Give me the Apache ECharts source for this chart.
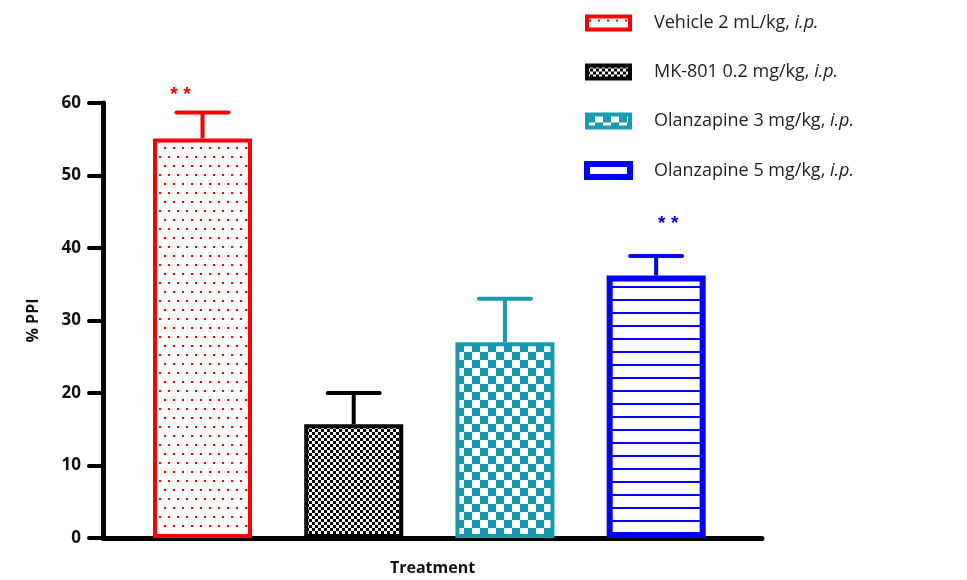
<!DOCTYPE html>
<html>
<head>
<meta charset="utf-8">
<script src="https://cdn.jsdelivr.net/npm/echarts@6/dist/echarts.min.js"></script>
<style>html,body{margin:0;padding:0;background:#fff}#c{width:967px;height:580px}</style>
</head>
<body>
<div id="c"></div>
<script>
// ---- data ----
const groups = ['Vehicle 2 mL/kg, i.p.', 'MK-801 0.2 mg/kg, i.p.', 'Olanzapine 3 mg/kg, i.p.', 'Olanzapine 5 mg/kg, i.p.'];
const meanPPI = [55.1, 15.7, 27.0, 36.2];
const errTop  = [58.7, 20.0, 33.0, 38.9];
const sigMarks = ['**', '', '', '**'];
const yTicks = [0, 10, 20, 30, 40, 50, 60];

// ---- styles ----
const colors = ['#ff0000', '#000000', '#179bb0', '#0000ff'];
const borderW = [4, 4, 4, 6];
const starDx = [-22, 0, 0, 12];
const starDy = [-22, 0, 0, -36];

function pattern(w, h, draw) {
  const c = document.createElement('canvas');
  c.width = w; c.height = h;
  const g = c.getContext('2d');
  g.fillStyle = '#ffffff'; g.fillRect(0, 0, w, h);
  draw(g);
  return { image: c, repeat: 'repeat' };
}
const fills = [
  pattern(9, 18, g => { g.fillStyle = '#ff0000'; g.fillRect(2, 3, 2, 2); g.fillRect(6, 12, 2, 2); g.fillRect(-3, 12, 2, 2); }),
  pattern(6, 6, g => { g.fillStyle = '#000'; g.fillRect(0, 0, 3, 3); g.fillRect(3, 3, 3, 3); }),
  pattern(16, 16, g => { g.fillStyle = '#179bb0'; g.fillRect(0, 0, 8, 8); g.fillRect(8, 8, 8, 8); }),
  pattern(4, 13, g => { g.fillStyle = '#0000ff'; g.fillRect(0, 0, 4, 2); })
];

const chart = echarts.init(document.getElementById('c'), null, { renderer: 'canvas' });

const barSeries = {
  name: 'bars',
  type: 'bar',
  barWidth: 99,
  data: groups.map((g, i) => ({
    value: [i, meanPPI[i]],
    itemStyle: { color: fills[i], borderColor: colors[i], borderWidth: borderW[i] }
  })),
  emphasis: { disabled: true },
  z: 2
};

const errSeries = groups.map((name, gi) => ({
  name: name,
  type: 'custom',
  z: 5,
  silent: true,
  itemStyle: { color: fills[gi], borderColor: colors[gi], borderWidth: borderW[gi] },
  data: [[gi, meanPPI[gi], errTop[gi]]],
  renderItem: function (params, api) {
    const i = api.value(0);
    const p0 = api.coord([i, api.value(1)]);
    const p1 = api.coord([i, api.value(2)]);
    const col = colors[i];
    const lw = 4;
    const children = [
      { type: 'line', shape: { x1: p0[0], y1: p0[1], x2: p1[0], y2: p1[1] }, style: { stroke: col, lineWidth: lw } },
      { type: 'line', shape: { x1: p1[0] - 26, y1: p1[1], x2: p1[0] + 26, y2: p1[1] }, style: { stroke: col, lineWidth: lw, lineCap: 'round' } }
    ];
    if (sigMarks[i]) {
      const stars = sigMarks[i].split('');
      const cx = p1[0] + starDx[i];
      stars.forEach((s, k) => {
        children.push({
          type: 'text',
          style: {
            text: s, x: cx + (k - (stars.length - 1) / 2) * 13, y: p1[1] + starDy[i] + 4,
            fill: col, font: 'bold 19px "Liberation Sans", sans-serif', align: 'center', verticalAlign: 'middle'
          }
        });
      });
    }
    return { type: 'group', children: children };
  }
}));

function legendFmt(name) {
  const base = name.replace(/i\.p\.$/, '');
  return '{n|' + base + '}{i|i.p.}';
}

chart.setOption({
  animation: false,
  backgroundColor: '#ffffff',
  grid: { left: 103, right: 205, top: 103, bottom: 42, containLabel: false, outerBoundsMode: 'none' },
  legend: {
    orient: 'vertical',
    left: 579,
    top: 9,
    itemWidth: 43,
    itemHeight: 13,
    itemGap: 31,
    selectedMode: false,
    data: groups.map((g, i) => ({
      name: g,
      icon: 'rect',
      itemStyle: { color: fills[i], borderColor: colors[i], borderWidth: borderW[i] }
    })),
    formatter: legendFmt,
    textStyle: {
      rich: {
        n: { fontFamily: '"Open Sans", sans-serif', fontSize: 18, color: '#222', padding: [0, 0, 0, 19] },
        i: { fontFamily: '"Open Sans", sans-serif', fontSize: 18, color: '#222', fontStyle: 'italic' }
      }
    }
  },
  xAxis: {
    type: 'value',
    min: -0.658,
    max: 3.70,
    name: 'Treatment',
    nameLocation: 'middle',
    nameGap: 22,
    nameTextStyle: { fontFamily: '"Open Sans", sans-serif', fontWeight: 'bold', fontSize: 16, color: '#111' },
    axisLine: { show: true, onZero: false, lineStyle: { color: '#000', width: 5, cap: 'round' } },
    axisTick: { show: false },
    axisLabel: { show: false },
    splitLine: { show: false }
  },
  yAxis: {
    type: 'value',
    min: yTicks[0],
    max: yTicks[yTicks.length - 1],
    interval: yTicks[1] - yTicks[0],
    name: '% PPI',
    nameLocation: 'middle',
    nameRotate: 90,
    nameGap: 62,
    nameTextStyle: { fontFamily: '"Open Sans", sans-serif', fontWeight: 'bold', fontSize: 16, color: '#111' },
    axisLine: { show: true, onZero: false, lineStyle: { color: '#000', width: 5, cap: 'round' } },
    axisTick: { show: true, length: 14, lineStyle: { color: '#000', width: 4, cap: 'round' } },
    axisLabel: { margin: 22, fontFamily: '"Open Sans", sans-serif', fontWeight: 'bold', fontSize: 17, color: '#111' },
    splitLine: { show: false }
  },
  series: [barSeries].concat(errSeries)
});
</script>
</body>
</html>
